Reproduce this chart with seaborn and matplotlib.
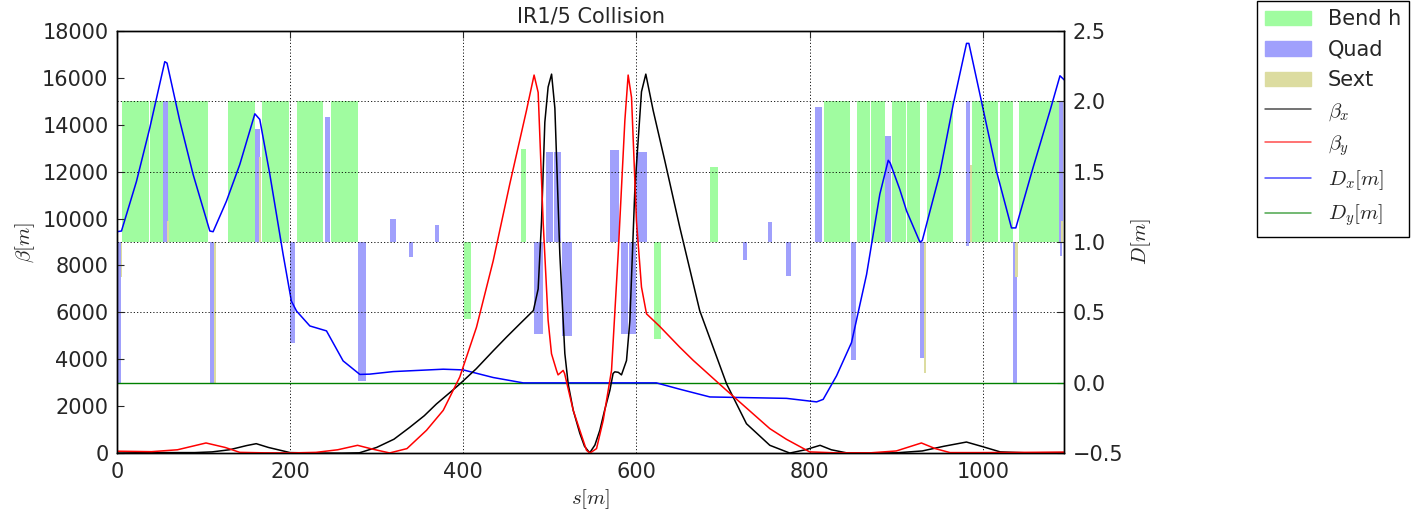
import matplotlib
matplotlib.use("Agg")
import matplotlib.pyplot as plt
import matplotlib.patches as mpatches
from matplotlib.lines import Line2D
import seaborn as sns

# --- optics functions (s in m) ---
S_BETX = [0, 30, 60, 90, 110, 130, 150, 161, 175, 200, 230, 260, 280, 300, 320, 338, 355,
          369, 385, 396, 415, 435, 450, 465, 481, 486.5, 490.4, 494.2, 498, 502, 505.8,
          511.5, 517.3, 521.2, 527, 534.6, 540, 546, 552, 557.7, 563, 569.3, 573, 575, 579,
          582.7, 588.5, 592.4, 598.2, 605.8, 610.8, 619.3, 632.8, 650, 673, 704, 727, 754,
          777, 795, 812, 825, 842.5, 870, 900, 930, 955, 981, 1000, 1020, 1050, 1094]
BETX = [60, 40, 30, 30, 60, 150, 330, 410, 250, 30, 10, 5, 20, 250, 600, 1100, 1600,
        2100, 2600, 2950, 3600, 4380, 4950, 5500, 6080, 7000, 9900, 14100, 15600, 16150, 14700,
        8500, 4250, 2950, 1830, 850, 300, 20, 350, 980, 1800, 2680, 3400, 3470, 3450,
        3340, 3950, 5650, 11300, 15400, 16150, 14600, 12450, 9630, 6080, 2960, 1260, 340,
        10, 150, 340, 150, 20, 5, 20, 100, 300, 480, 280, 60, 20, 30]

S_BETY = [0, 40, 70, 103, 125, 142, 170, 200, 230, 255, 278, 295, 315, 335, 357.6, 376.9,
          396, 415.3, 434.6, 453.8, 473, 481.8, 486.5, 492.2, 498, 501.9, 507.7, 509.5,
          515.4, 517, 527, 534.6, 542.3, 546.2, 553.9, 561.6, 571.2, 578.9, 586.6, 590.4,
          594.3, 600, 605.8, 611.6, 627, 650, 665.5, 704, 754, 773, 800, 830, 870, 900,
          929, 945, 962, 1000, 1050, 1094]
BETY = [90, 70, 150, 440, 250, 40, 20, 15, 40, 150, 340, 180, 15, 200, 980, 1830,
        3250, 5370, 8200, 11480, 14600, 16110, 15370, 9900, 5660, 4240, 3530, 3340,
        3530, 3400, 1830, 980, 130, 10, 200, 1400, 3530, 8500, 14170, 16110,
        15160, 9900, 7080, 5940, 5400, 4520, 3960, 2680, 1050, 600, 60, 20, 20, 100,
        440, 200, 30, 30, 40, 50]

S_DX = [0, 5.4, 22.7, 38.1, 55.4, 58, 72.7, 88.1, 107.4, 111.2, 126.6, 142, 159.4, 165.1,
        176.7, 192, 201.6, 207.5, 222.9, 242.1, 261.3, 280.6, 292, 319, 376.9, 400, 434.6,
        469.2, 623, 650, 684.8, 773.3, 808, 815.6, 831, 848.3, 865.7, 881, 890.7, 893,
        904, 911.9, 927.2, 930, 950, 965.7, 981.1, 983.8, 996.5, 1015.8, 1033, 1038,
        1058, 1077.4, 1089, 1094]
DX = [1.073, 1.078, 1.43, 1.81, 2.28, 2.27, 1.86, 1.48, 1.078, 1.073, 1.29, 1.55, 1.91, 1.87,
      1.48, 0.913, 0.58, 0.51, 0.404, 0.369, 0.156, 0.06, 0.062, 0.08, 0.097, 0.092, 0.038,
      0.0, 0.0, -0.045, -0.1, -0.11, -0.135, -0.117, 0.05, 0.286, 0.77, 1.34, 1.58, 1.56,
      1.374, 1.22, 1.0, 1.01, 1.48, 1.976, 2.41, 2.41, 2.05, 1.50, 1.10, 1.10,
      1.53, 1.93, 2.18, 2.15]

S_DY = [0, 1094]
DY = [0.0, 0.0]

# --- lattice elements: start, end, height above/below the 1.0 baseline ---
BEND_START = [6.5, 38.8, 128.4, 168, 207.5, 247, 400.7, 466.2, 620.4, 684.8, 816.4, 854.9,
              871, 895.3, 912, 935, 987, 1019.6, 1041.5]
BEND_END = [37.3, 105.4, 159.2, 198.6, 238.3, 278.6, 408.8, 473, 628.1, 693.6, 846.4, 870.2,
            887.3, 910.7, 927.2, 965, 1018, 1035, 1088]
BEND_H = [1, 1, 1, 1, 1, 1, -0.55, 0.66, -0.686, 0.534, 1, 1,
          1, 1, 1, 1, 1, 1, 1]

QUAD_START = [0.3, 53.5, 108, 159.7, 199.8, 240.2, 278.6, 316, 337, 367.2, 481.8, 495, 504.5,
              514.2, 569.3, 582, 591, 600, 722.5, 752, 772.5, 806.4, 847.6, 887.5, 927.2,
              980.4, 981, 1035, 1088, 1088.5]
QUAD_END = [5.4, 59.2, 113.4, 165.9, 206.3, 246, 287.5, 321.8, 342, 371.8, 492.2, 503.5, 512.7,
            525, 579.7, 590.5, 599.3, 611.6, 727.4, 756.6, 777.9, 814.5, 854, 894.4, 932,
            985, 984.5, 1039.7, 1092.7, 1091]
QUAD_H = [-1.0, 1.0, -1.0, 0.8, -0.72, 0.89, -0.99, 0.16, -0.11, 0.12, -0.655, 0.64, 0.64,
          -0.667, 0.65, -0.655, -0.655, 0.64, -0.13, 0.14, -0.24, 0.96, -0.84, 0.75, -0.82,
          1.0, -0.03, -1.0, 1.0, -0.1]

SEXT_START = [5.4, 58.5, 112.5, 164.5, 932, 985, 1037.5, 1090.5]
SEXT_END = [6.5, 60, 114.5, 166.5, 934.2, 987, 1040, 1092.5]
SEXT_H = [-0.25, 0.15, -1.0, 0.6, -0.93, 0.55, -0.25, 0.15]

BEND_COLOR = "#a0fca0"
QUAD_COLOR = "#a0a0fc"
SEXT_COLOR = "#dcdca0"

sns.set_style("white", {"xtick.direction": "in", "ytick.direction": "in",
                        "axes.edgecolor": "black"})
plt.rcParams["font.family"] = ["DejaVu Sans"]
plt.rcParams["mathtext.fontset"] = "cm"
plt.rcParams["font.size"] = 15
plt.rcParams["axes.linewidth"] = 1.0

fig = plt.figure(figsize=(14.14, 5.15), dpi=100)
ax = fig.add_axes([0.0826, 0.1198, 0.6701, 0.8206])
ax2 = ax.twinx()

# elements on the dispersion axis, baseline D = 1
for starts, ends, heights, color in [(BEND_START, BEND_END, BEND_H, BEND_COLOR),
                                     (QUAD_START, QUAD_END, QUAD_H, QUAD_COLOR),
                                     (SEXT_START, SEXT_END, SEXT_H, SEXT_COLOR)]:
    widths = [e - s for s, e in zip(starts, ends)]
    ax2.bar(starts, heights, width=widths, bottom=1.0, align="edge", color=color,
            linewidth=0, zorder=1)

sns.lineplot(x=S_DY, y=DY, ax=ax2, color="green", linewidth=1, estimator=None, sort=False)
sns.lineplot(x=S_DX, y=DX, ax=ax2, color="blue", linewidth=1.1, estimator=None, sort=False)
sns.lineplot(x=S_BETX, y=BETX, ax=ax, color="black", linewidth=1.1, estimator=None, sort=False)
sns.lineplot(x=S_BETY, y=BETY, ax=ax, color="red", linewidth=1.1, estimator=None, sort=False)

ax.set_zorder(ax2.get_zorder() + 1)
ax.patch.set_visible(False)

ax.set_xlim(0, 1094)
ax.set_ylim(0, 18000)
ax2.set_ylim(-0.5, 2.5)
ax.set_xticks([0, 200, 400, 600, 800, 1000])
ax.set_yticks(range(0, 18001, 2000))
ax2.set_yticks([-0.5, 0.0, 0.5, 1.0, 1.5, 2.0, 2.5])

grid_style = dict(color="black", linestyle=(0, (1.5, 2.4)), linewidth=0.6)
ax.grid(True, axis="x", **grid_style)
ax2.grid(True, axis="y", **grid_style)
ax2.set_axisbelow("line")
ax.set_axisbelow("line")

ax.tick_params(axis="both", direction="in", length=5, width=0.8, top=True, labelsize=15, pad=6)
ax2.tick_params(axis="y", direction="in", length=5, width=0.8, labelsize=15, pad=6)

ax.set_xlabel(r"$s[m]$", fontsize=15)
ax.set_ylabel(r"$\beta[m]$", fontsize=15)
ax2.set_ylabel(r"$D[m]$", fontsize=15)
ax.set_title("IR1/5 Collision", fontsize=15)

handles = [
    mpatches.Patch(color=BEND_COLOR, label="Bend h"),
    mpatches.Patch(color=QUAD_COLOR, label="Quad"),
    mpatches.Patch(color=SEXT_COLOR, label="Sext"),
    Line2D([], [], color="black", alpha=0.7, lw=1.1, label=r"$\beta_x$"),
    Line2D([], [], color="red", alpha=0.7, lw=1.1, label=r"$\beta_y$"),
    Line2D([], [], color="blue", alpha=0.7, lw=1.1, label=r"$D_x[m]$"),
    Line2D([], [], color="green", alpha=0.7, lw=1.1, label=r"$D_y[m]$"),
]
leg = fig.legend(handles=handles, loc="upper left", bbox_to_anchor=(1257 / 1414, 0.998),
                 borderaxespad=0, fontsize=15, fancybox=False, framealpha=1,
                 edgecolor="black", handlelength=2.2, handletextpad=0.8, labelspacing=0.5,
                 borderpad=0.4)
leg.get_frame().set_linewidth(1.0)

fig.savefig("out.png", dpi=100)
